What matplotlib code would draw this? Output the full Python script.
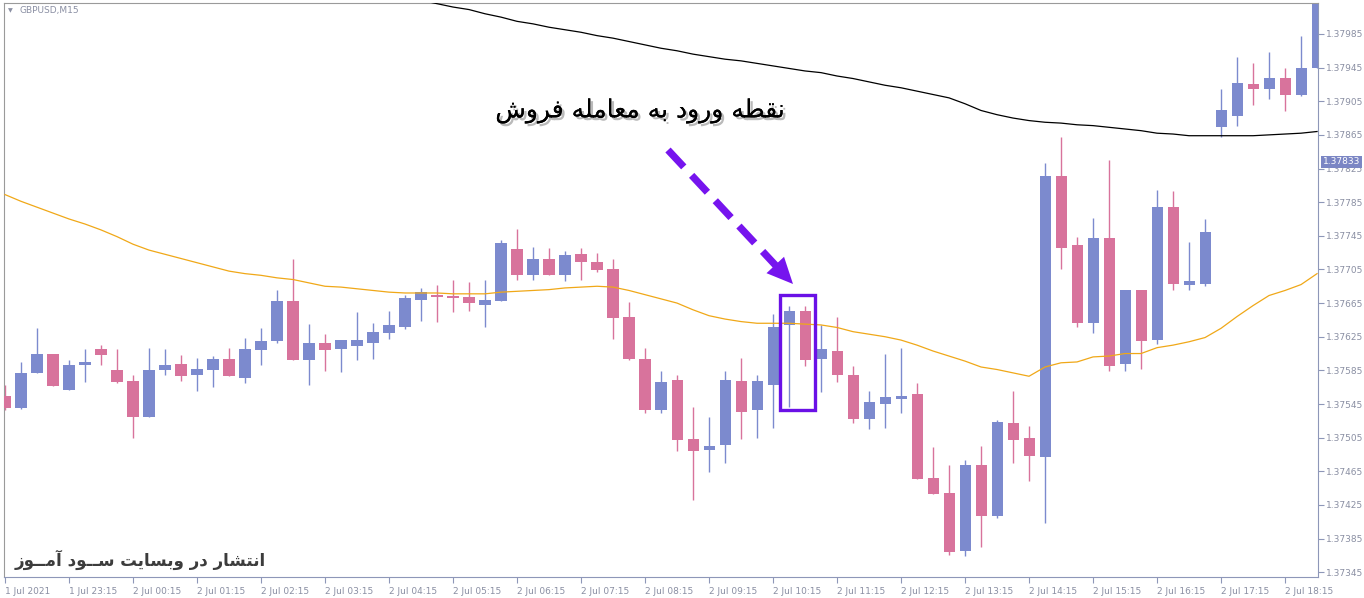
import numpy as np
import matplotlib
matplotlib.use('Agg')
import matplotlib.pyplot as plt
from matplotlib.lines import Line2D
from matplotlib.patches import Polygon, Rectangle
import matplotlib.patheffects as pe

# GBPUSD M15 candles (prices, in points = price * 1e5)
opens = [137555, 137540, 137582, 137604, 137562, 137591, 137610, 137585, 137572, 137530,
         137585, 137592, 137579, 137586, 137598, 137576, 137609, 137620, 137668, 137597,
         137618, 137610, 137614, 137617, 137629, 137636, 137669, 137675, 137674, 137672,
         137663, 137668, 137729, 137698, 137717, 137698, 137723, 137714, 137705, 137648,
         137599, 137538, 137573, 137503, 137490, 137496, 137572, 137538, 137568, 137639,
         137655, 137598, 137608, 137580, 137527, 137545, 137551, 137557, 137457, 137439,
         137370, 137472, 137412, 137523, 137505, 137482, 137816, 137734, 137641, 137742,
         137593, 137680, 137621, 137779, 137686, 137688, 137874, 137888, 137926, 137919,
         137933, 137913, 137944]
highs = [137567, 137595, 137635, 137604, 137597, 137610, 137615, 137610, 137579, 137611,
         137610, 137603, 137600, 137602, 137611, 137623, 137635, 137680, 137717, 137640,
         137628, 137621, 137654, 137641, 137655, 137675, 137683, 137686, 137693, 137690,
         137692, 137740, 137753, 137732, 137730, 137727, 137731, 137724, 137717, 137666,
         137611, 137584, 137579, 137541, 137529, 137584, 137600, 137580, 137652, 137661,
         137661, 137639, 137648, 137590, 137561, 137604, 137611, 137570, 137494, 137472,
         137478, 137495, 137526, 137560, 137519, 137831, 137863, 137744, 137766, 137835,
         137681, 137680, 137799, 137798, 137738, 137765, 137919, 137957, 137951, 137963,
         137945, 137983, 138040]
lows = [137538, 137539, 137582, 137566, 137562, 137571, 137591, 137570, 137505, 137530,
        137580, 137572, 137561, 137565, 137578, 137570, 137591, 137617, 137597, 137567,
        137584, 137583, 137597, 137598, 137622, 137634, 137644, 137643, 137654, 137656,
        137636, 137667, 137692, 137693, 137698, 137691, 137692, 137702, 137622, 137597,
        137534, 137534, 137489, 137431, 137464, 137475, 137503, 137505, 137517, 137541,
        137590, 137559, 137571, 137522, 137515, 137517, 137534, 137456, 137438, 137365,
        137364, 137375, 137410, 137475, 137453, 137404, 137706, 137637, 137629, 137584,
        137584, 137587, 137616, 137680, 137680, 137685, 137862, 137875, 137900, 137908,
        137893, 137911, 137944]
closes = [137540, 137582, 137604, 137566, 137591, 137595, 137603, 137571, 137530, 137586,
          137591, 137578, 137587, 137598, 137578, 137610, 137620, 137667, 137597, 137617,
          137609, 137621, 137621, 137631, 137639, 137671, 137678, 137672, 137671, 137665,
          137669, 137736, 137698, 137717, 137698, 137722, 137714, 137704, 137647, 137599,
          137538, 137571, 137502, 137489, 137495, 137574, 137535, 137572, 137637, 137656,
          137597, 137610, 137579, 137527, 137547, 137553, 137555, 137456, 137438, 137369,
          137472, 137412, 137524, 137502, 137483, 137816, 137731, 137641, 137742, 137590,
          137680, 137620, 137779, 137688, 137691, 137750, 137894, 137927, 137920, 137933,
          137913, 137944, 138021]

# orange moving average, one value per candle
ma_fast = [137794, 137786, 137779, 137772, 137765, 137759, 137752, 137744, 137735, 137728,
           137723, 137718, 137713, 137708, 137703, 137700, 137698, 137695, 137693, 137689,
           137685, 137684, 137682, 137680, 137678, 137677, 137677, 137677, 137676, 137676,
           137676, 137678, 137679, 137680, 137681, 137683, 137684, 137685, 137684, 137680,
           137675, 137670, 137665, 137657, 137650, 137646, 137643, 137641, 137641, 137641,
           137640, 137639, 137636, 137631, 137628, 137625, 137621, 137615, 137608, 137602,
           137596, 137589, 137586, 137582, 137578, 137589, 137594, 137595, 137601, 137602,
           137605, 137605, 137612, 137615, 137619, 137624, 137635, 137649, 137662, 137674,
           137680, 137687, 137700]

# black moving average, visible from candle 26 on
ma_slow_start = 26
ma_slow = [138025, 138021, 138017, 138014, 138009, 138005, 138000, 137997, 137993, 137990,
           137987, 137983, 137980, 137976, 137972, 137968, 137965, 137961, 137958, 137955,
           137953, 137950, 137947, 137944, 137941, 137939, 137935, 137932, 137928, 137924,
           137921, 137917, 137913, 137909, 137902, 137894, 137889, 137885, 137882, 137880,
           137879, 137877, 137876, 137874, 137872, 137870, 137867, 137866, 137864, 137864,
           137864, 137864, 137864, 137865, 137866, 137867, 137869]

time_labels = ['1 Jul 2021', '1 Jul 23:15', '2 Jul 00:15', '2 Jul 01:15', '2 Jul 02:15',
               '2 Jul 03:15', '2 Jul 04:15', '2 Jul 05:15', '2 Jul 06:15', '2 Jul 07:15',
               '2 Jul 08:15', '2 Jul 09:15', '2 Jul 10:15', '2 Jul 11:15', '2 Jul 12:15',
               '2 Jul 13:15', '2 Jul 14:15', '2 Jul 15:15', '2 Jul 16:15', '2 Jul 17:15',
               '2 Jul 18:15']
price_ticks = [1.37345 + 0.0004 * k for k in range(17)]
last_price = 1.37833
entry_candles = [49, 50]

title_fa = 'نقطه ورود به معامله فروش'
watermark_fa = 'انتشار در وبسایت ســود آمــوز'

# minimal arabic shaping (matplotlib does no joining / rtl)
FORMS = {
    'ا': ('\uFE8D', '\uFE8E', None, None),
    'آ': ('\uFE81', '\uFE82', None, None),
    'ب': ('\uFE8F', '\uFE90', '\uFE91', '\uFE92'),
    'ت': ('\uFE95', '\uFE96', '\uFE97', '\uFE98'),
    'د': ('\uFEA9', '\uFEAA', None, None),
    'ر': ('\uFEAD', '\uFEAE', None, None),
    'ز': ('\uFEAF', '\uFEB0', None, None),
    'س': ('\uFEB1', '\uFEB2', '\uFEB3', '\uFEB4'),
    'ش': ('\uFEB5', '\uFEB6', '\uFEB7', '\uFEB8'),
    'ط': ('\uFEC1', '\uFEC2', '\uFEC3', '\uFEC4'),
    'ع': ('\uFEC9', '\uFECA', '\uFECB', '\uFECC'),
    'ف': ('\uFED1', '\uFED2', '\uFED3', '\uFED4'),
    'ق': ('\uFED5', '\uFED6', '\uFED7', '\uFED8'),
    'ل': ('\uFEDD', '\uFEDE', '\uFEDF', '\uFEE0'),
    'م': ('\uFEE1', '\uFEE2', '\uFEE3', '\uFEE4'),
    'ن': ('\uFEE5', '\uFEE6', '\uFEE7', '\uFEE8'),
    'ه': ('\uFEE9', '\uFEEA', '\uFEEB', '\uFEEC'),
    'و': ('\uFEED', '\uFEEE', None, None),
    'ی': ('\uFBFC', '\uFBFD', '\uFEF3', '\uFEF4'),
    'ـ': ('\u0640', '\u0640', '\u0640', '\u0640'),
}


def shape(text):
    out = []
    for i, ch in enumerate(text):
        if ch not in FORMS:
            out.append(ch)
            continue
        prev = text[i - 1] if i > 0 else ''
        nxt = text[i + 1] if i + 1 < len(text) else ''
        join_prev = prev in FORMS and FORMS[prev][2] is not None
        join_next = nxt in FORMS and FORMS[ch][2] is not None
        iso, fin, ini, med = FORMS[ch]
        if join_prev and join_next:
            out.append(med)
        elif join_prev:
            out.append(fin)
        elif join_next:
            out.append(ini)
        else:
            out.append(iso)
    return ''.join(reversed(out))


def main():
    W, H = 1364, 598
    fig = plt.figure(figsize=(W / 100, H / 100), dpi=100)
    fig.patch.set_facecolor('white')

    # axes box in pixels: left 4, right 1318, top 3, bottom 577
    ax = fig.add_axes([4 / W, (H - 577) / H, (1318 - 4) / W, (577 - 3) / H])

    o = np.array(opens) / 1e5
    hi = np.array(highs) / 1e5
    lo = np.array(lows) / 1e5
    c = np.array(closes) / 1e5
    x = np.arange(len(o))

    blue = '#7c8ace'
    pink = '#d8739c'
    cols = np.where(c >= o, blue, pink)

    ax.vlines(x, lo, hi, colors=cols, linewidth=1.0, zorder=2)
    ax.bar(x, np.maximum(np.abs(c - o), 0.000012), bottom=np.minimum(o, c),
           width=0.69, color=cols, linewidth=0, zorder=3)

    ax.plot(x, np.array(ma_fast) / 1e5, color='#f0a818', linewidth=0.9, zorder=4)
    xs = np.arange(ma_slow_start, ma_slow_start + len(ma_slow))
    ax.plot(xs, np.array(ma_slow) / 1e5, color='black', linewidth=0.9, zorder=4)

    ax.set_xlim(-0.0625, 82.06)
    ax.set_ylim(1.373393, 1.380218)

    axis_col = '#8e97b8'
    text_col = '#8a8fa3'
    for s in ['bottom', 'right']:
        ax.spines[s].set_color(axis_col)
    for s in ['top', 'left']:
        ax.spines[s].set_color('#9a9a9a')

    ax.set_xticks(np.arange(0, 4 * len(time_labels), 4))
    ax.set_xticklabels(time_labels, ha='left', fontsize=6.5, color=text_col)
    ax.tick_params(axis='x', direction='out', length=4, color=axis_col, pad=3)

    ax.yaxis.tick_right()
    ax.set_yticks(price_ticks)
    ax.set_yticklabels(['%.5f' % p for p in price_ticks], fontsize=6.5, color=text_col)
    ax.tick_params(axis='y', direction='out', length=4, color=axis_col, pad=2)

    # current price box
    ax.text(1.0035, last_price, '%.5f' % last_price, transform=ax.get_yaxis_transform(),
            ha='left', va='center', fontsize=6.5, color='white', zorder=10,
            bbox=dict(boxstyle='square,pad=0.18', facecolor='#7b86c4', edgecolor='none'),
            clip_on=False)

    # box around the entry candles
    i0, i1 = entry_candles
    top = max(hi[i0], hi[i1]) + 0.00014
    bot = min(lo[i0], lo[i1]) - 0.00003
    ax.add_patch(Rectangle((i0 - 0.56, bot), (i1 - i0) + 1.16, top - bot, fill=False,
                           edgecolor='#6a10e6', linewidth=2.4, zorder=6))

    def px(xp, yp):
        return xp / W, 1 - yp / H

    # dashed arrow
    start = np.array([668.0, 150.0])
    tip = np.array([793.0, 284.0])
    d = (tip - start) / np.linalg.norm(tip - start)
    n = np.array([-d[1], d[0]])
    base = tip - d * 26
    line_end = tip - d * 20
    fig.add_artist(Line2D([px(*start)[0], px(*line_end)[0]], [px(*start)[1], px(*line_end)[1]],
                          color='#7614ee', linewidth=5.2, dashes=(3.2, 1.6),
                          solid_capstyle='butt', dash_capstyle='butt'))
    head = [px(*tip), px(*(base + n * 12)), px(*(base - n * 12))]
    fig.add_artist(Polygon(head, closed=True, facecolor='#7614ee', edgecolor='none',
                           transform=fig.transFigure))

    fig.text(640 / W, 1 - 111 / H, shape(title_fa), ha='center', va='center',
             fontsize=18, color='black',
             path_effects=[pe.withSimplePatchShadow(offset=(2, -2), shadow_rgbFace='#666666', alpha=0.45),
                           pe.Normal()])

    fig.text(15 / W, 1 - 560 / H, shape(watermark_fa), ha='left', va='center',
             fontsize=12, fontweight='bold', color='#3c3c3c')

    fig.text(8 / W, 1 - 11 / H, '▼', ha='left', va='center', fontsize=4.5, color=text_col)
    fig.text(20 / W, 1 - 11 / H, 'GBPUSD,M15', ha='left', va='center', fontsize=6.5, color=text_col)

    fig.savefig('out.png', dpi=100)


if __name__ == '__main__':
    main()
